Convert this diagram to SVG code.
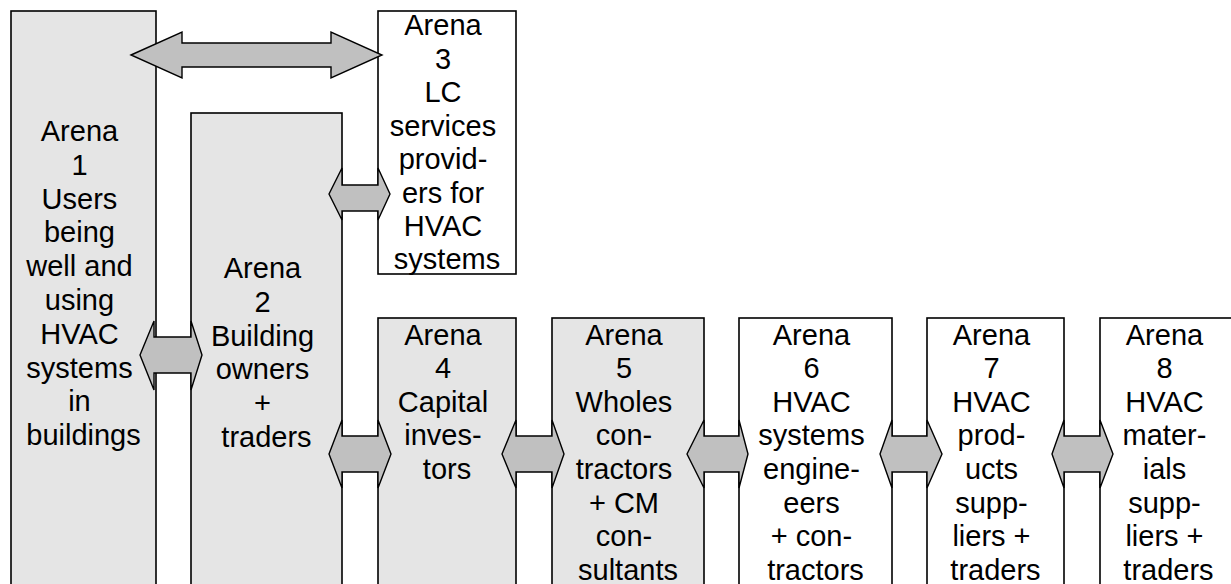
<svg xmlns="http://www.w3.org/2000/svg" width="1231" height="584" viewBox="0 0 1231 584">
  <style>
    .box { stroke: #000; stroke-width: 1.6; }
    .grey { fill: #e5e5e5; }
    .white { fill: #ffffff; }
    .arrow { fill: #c0c0c0; stroke: #000; stroke-width: 1.4; stroke-linejoin: miter; }
    text { font-family: "Liberation Sans", Arial, sans-serif; font-size: 29px; fill: #000; text-anchor: middle; }
  </style>
  <rect width="1231" height="584" fill="#ffffff"/>

  <!-- Arena 1 -->
  <g id="arena1">
    <rect class="box grey" x="11" y="11" width="145" height="600"/>
    <text>
      <tspan x="83.5" y="141">Arena</tspan>
      <tspan x="83.5" y="174.8">1</tspan>
      <tspan x="83.5" y="208.6">Users</tspan>
      <tspan x="83.5" y="242.4">being</tspan>
      <tspan x="83.5" y="276.2">well and</tspan>
      <tspan x="83.5" y="310">using</tspan>
      <tspan x="83.5" y="343.8">HVAC</tspan>
      <tspan x="83.5" y="377.6">systems</tspan>
      <tspan x="83.5" y="411.4">in</tspan>
      <tspan x="83.5" y="445.2">buildings</tspan>
    </text>
  </g>

  <!-- Arena 2 -->
  <g id="arena2">
    <rect class="box grey" x="191" y="113" width="151" height="500"/>
    <text>
      <tspan x="266.5" y="278">Arena</tspan>
      <tspan x="266.5" y="311.8">2</tspan>
      <tspan x="266.5" y="345.6">Building</tspan>
      <tspan x="266.5" y="379.4">owners</tspan>
      <tspan x="266.5" y="413.2">+</tspan>
      <tspan x="266.5" y="447">traders</tspan>
    </text>
  </g>

  <!-- Arena 3 -->
  <g id="arena3">
    <rect class="box white" x="378" y="11" width="138" height="263"/>
    <text>
      <tspan x="447" y="35">Arena</tspan>
      <tspan x="447" y="68.5">3</tspan>
      <tspan x="447" y="102">LC</tspan>
      <tspan x="447" y="135.5">services</tspan>
      <tspan x="447" y="169">provid-</tspan>
      <tspan x="447" y="202.5">ers for</tspan>
      <tspan x="447" y="236">HVAC</tspan>
      <tspan x="447" y="269">systems</tspan>
    </text>
  </g>

  <!-- Arena 4 -->
  <g id="arena4">
    <rect class="box grey" x="378" y="318" width="138" height="300"/>
    <text>
      <tspan x="447" y="344.5">Arena</tspan>
      <tspan x="447" y="378.1">4</tspan>
      <tspan x="447" y="411.7">Capital</tspan>
      <tspan x="447" y="445.3">inves-</tspan>
      <tspan x="447" y="478.9">tors</tspan>
    </text>
  </g>

  <!-- Arena 5 -->
  <g id="arena5">
    <rect class="box grey" x="552" y="318" width="152" height="300"/>
    <text>
      <tspan x="628" y="344.5">Arena</tspan>
      <tspan x="628" y="378.1">5</tspan>
      <tspan x="628" y="411.7">Wholes</tspan>
      <tspan x="628" y="445.3">con-</tspan>
      <tspan x="628" y="478.9">tractors</tspan>
      <tspan x="628" y="512.5">+ CM</tspan>
      <tspan x="628" y="546.1">con-</tspan>
      <tspan x="628" y="579.7">sultants</tspan>
    </text>
  </g>

  <!-- Arena 6 -->
  <g id="arena6">
    <rect class="box white" x="739" y="318" width="153" height="300"/>
    <text>
      <tspan x="815.5" y="344.5">Arena</tspan>
      <tspan x="815.5" y="378.1">6</tspan>
      <tspan x="815.5" y="411.7">HVAC</tspan>
      <tspan x="815.5" y="445.3">systems</tspan>
      <tspan x="815.5" y="478.9">engine-</tspan>
      <tspan x="815.5" y="512.5">eers</tspan>
      <tspan x="815.5" y="546.1">+ con-</tspan>
      <tspan x="815.5" y="579.7">tractors</tspan>
    </text>
  </g>

  <!-- Arena 7 -->
  <g id="arena7">
    <rect class="box white" x="927" y="318" width="137" height="300"/>
    <text>
      <tspan x="995.5" y="344.5">Arena</tspan>
      <tspan x="995.5" y="378.1">7</tspan>
      <tspan x="995.5" y="411.7">HVAC</tspan>
      <tspan x="995.5" y="445.3">prod-</tspan>
      <tspan x="995.5" y="478.9">ucts</tspan>
      <tspan x="995.5" y="512.5">supp-</tspan>
      <tspan x="995.5" y="546.1">liers +</tspan>
      <tspan x="995.5" y="579.7">traders</tspan>
    </text>
  </g>

  <!-- Arena 8 -->
  <g id="arena8">
    <rect class="box white" x="1100" y="318" width="137" height="300"/>
    <text>
      <tspan x="1168.5" y="344.5">Arena</tspan>
      <tspan x="1168.5" y="378.1">8</tspan>
      <tspan x="1168.5" y="411.7">HVAC</tspan>
      <tspan x="1168.5" y="445.3">mater-</tspan>
      <tspan x="1168.5" y="478.9">ials</tspan>
      <tspan x="1168.5" y="512.5">supp-</tspan>
      <tspan x="1168.5" y="546.1">liers +</tspan>
      <tspan x="1168.5" y="579.7">traders</tspan>
    </text>
  </g>

  <!-- Two-headed block arrows between arenas -->
  <g id="connectors">
    <!-- 1 <-> 3 -->
    <polygon class="arrow" points="131,55 182,32 182,43 331,43 331,32 382,55 331,78 331,67 182,67 182,78"/>
    <!-- 2 <-> 3 -->
    <polygon class="arrow" points="329,194 342,168 342,185 378,185 378,168 390,194 378,220 378,211 342,211 342,220"/>
    <!-- 1 <-> 2 -->
    <polygon class="arrow" points="140,355 154,321 154,337 191,337 191,321 202,355 191,390 191,373 154,373 154,390"/>
    <!-- 2 <-> 4 -->
    <polygon class="arrow" points="329,454 342,420 342,436 378,436 378,420 391,454 378,488 378,472 342,472 342,488"/>
    <!-- 4 <-> 5 -->
    <polygon class="arrow" points="502,454 516,420 516,436 552,436 552,420 564,454 552,488 552,472 516,472 516,488"/>
    <!-- 5 <-> 6 -->
    <polygon class="arrow" points="687,454 704,420 704,436 739,436 739,420 748,454 739,488 739,472 704,472 704,488"/>
    <!-- 6 <-> 7 -->
    <polygon class="arrow" points="880,454 892,420 892,436 927,436 927,420 942,454 927,488 927,472 892,472 892,488"/>
    <!-- 7 <-> 8 -->
    <polygon class="arrow" points="1052,454 1064,420 1064,436 1100,436 1100,420 1113,454 1100,488 1100,472 1064,472 1064,488"/>
  </g>
</svg>
